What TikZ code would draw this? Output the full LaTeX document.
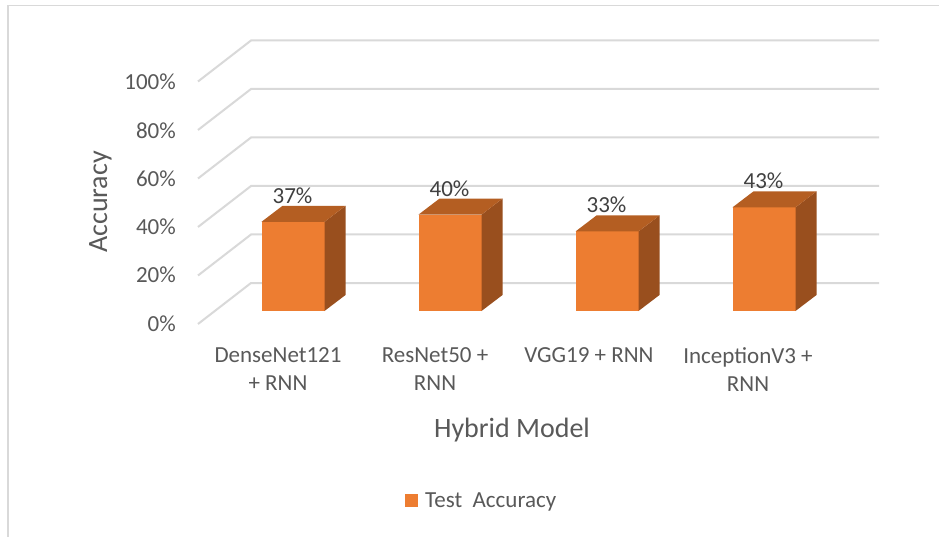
\documentclass[tikz,border=0pt]{standalone}
\usepackage{fontspec}
\setmainfont{Carlito}
\definecolor{gridc}{HTML}{D9D9D9}
\definecolor{barfront}{HTML}{ED7D31}
\definecolor{bartop}{HTML}{B45E22}
\definecolor{barside}{HTML}{994F1E}
\definecolor{ticktext}{HTML}{595959}
\definecolor{datatext}{HTML}{404040}
\begin{document}
\begin{tikzpicture}[x=1pt,y=-1pt,
  gridline/.style={draw=gridc,line width=2pt},
  frameline/.style={draw=gridc,line width=1.5pt},
  ticklabel/.style={anchor=base east,inner sep=0pt,text=ticktext,font=\fontsize{23}{28}\selectfont},
  catlabel/.style={anchor=north,inner sep=0pt,align=center,text=ticktext,font=\fontsize{23}{28}\selectfont},
  datalabel/.style={anchor=base,inner sep=0pt,text=datatext,font=\fontsize{23}{28}\selectfont},
  axistitle/.style={anchor=base,inner sep=0pt,text=ticktext,font=\fontsize{28}{32}\selectfont},
  legendtext/.style={anchor=base west,inner sep=0pt,text=ticktext,font=\fontsize{23}{28}\selectfont},
  legendkey/.style={fill=barfront,minimum size=13pt,inner sep=0pt}]
\useasboundingbox (0,0) rectangle (939,537);
\fill[white] (0,0) rectangle (939,537);
\draw[frameline] (8,537) -- (8,5.5) -- (939,5.5);
% gridlines
\foreach \k in {0,...,5} {
  \pgfmathsetmacro\yb{283-48.5*\k}
  \draw[gridline] (198,\yb+41) -- (251,\yb) -- (879,\yb);
}
% tick labels
\foreach \k/\t in {0/0\%,1/20\%,2/40\%,3/60\%,4/80\%,5/100\%} {
  \pgfmathsetmacro\yl{331-48.2*\k}
  \node[ticklabel] (tick\k) at (176,\yl) {\t};
}
% bars
\foreach \x/\p [count=\i] in {261.5/37,418.5/40,575.5/33,732.5/43} {
  \pgfmathsetmacro\tp{311-2.41*\p}
  \fill[barfront] (\x,311) rectangle (\x+63,\tp);
  \fill[barside] (\x+63,311) -- (\x+84,295) -- (\x+84,\tp-16) -- (\x+63,\tp) -- cycle;
  \fill[bartop] (\x,\tp) -- (\x+21,\tp-16) -- (\x+84,\tp-16) -- (\x+63,\tp) -- cycle;
  \node[datalabel] (data\i) at (\x+31,\tp-18.5) {\p\%};
}
% category labels
\node[catlabel] (cat1) at (278,347.5) {DenseNet121\\+ RNN};
\node[catlabel] (cat2) at (435,347.5) {ResNet50 +\\RNN};
\node[catlabel] (cat3) at (589,347.5) {VGG19 + RNN};
\node[catlabel] (cat4) at (748,347.5) {InceptionV3 +\\RNN};
% axis titles
\node[axistitle] (xtitle) at (512,437) {Hybrid Model};
\node[axistitle,rotate=90] (ytitle) at (107,202) {Accuracy};
% legend
\node[legendkey] (legkey) at (411.5,500.5) {};
\node[legendtext] (legtext) at (425,507) {Test\ \ Accuracy};
\end{tikzpicture}
\end{document}
